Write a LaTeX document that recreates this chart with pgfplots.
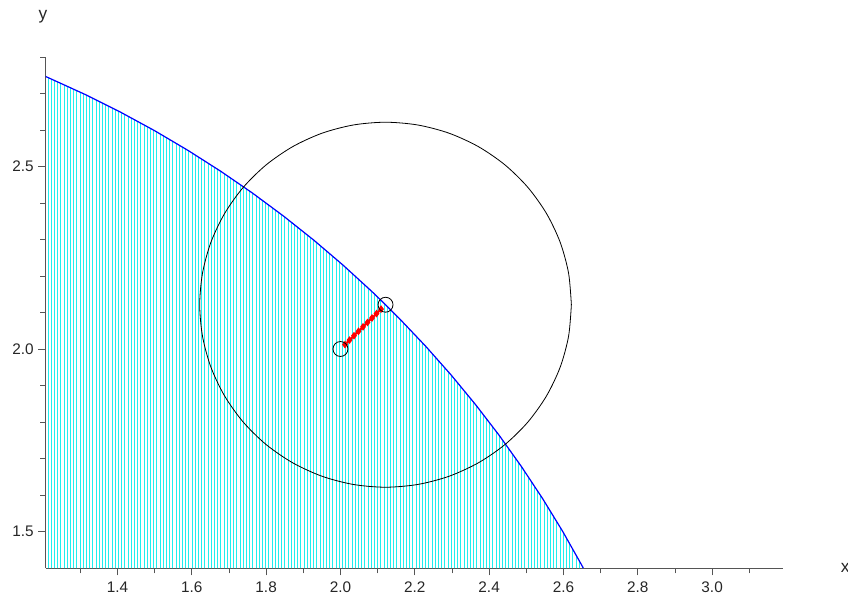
\documentclass[border=0pt]{standalone}
\usepackage{fontspec}
\setmainfont{Liberation Sans}
\usepackage{pgfplots}
\pgfplotsset{compat=1.18}
\usetikzlibrary{patterns.meta}
\definecolor{txt}{HTML}{262626}
\definecolor{axc}{HTML}{555555}
\definecolor{hatch}{HTML}{20EEEE}
\begin{document}
\begin{tikzpicture}
\path[use as bounding box] (-34.3pt,-23.25pt) rectangle (601.7pt,426pt);
\begin{axis}[
  at={(0,0)}, anchor=south west,
  scale only axis, width=552.75pt, height=383.25pt,
  xmin=1.207, xmax=3.19, ymin=1.4, ymax=2.8,
  axis lines=left, axis line style={-, draw=axc, line width=0.6pt},
  tick align=outside, tick style={draw=axc, line width=0.6pt},
  major tick length=5.5pt, minor tick length=4pt,
  xtick={1.4,1.6,1.8,2.0,2.2,2.4,2.6,2.8,3.0},
  minor xtick={1.3,1.5,1.7,1.9,2.1,2.3,2.5,2.7,2.9,3.1},
  ytick={1.5,2.0,2.5},
  minor ytick={1.6,1.7,1.8,1.9,2.1,2.2,2.3,2.4,2.6,2.7,2.8},
  /pgf/number format/.cd, fixed, fixed zerofill, precision=1, assume math mode=true,
  /pgfplots/.cd,
  ticklabel style={font=\fontsize{11.5pt}{13pt}\selectfont, text=txt},
  xticklabel style={yshift=-1.5pt},
  xlabel={x}, ylabel={y},
  label style={font=\fontsize{13pt}{15pt}\selectfont, text=txt},
  xlabel style={at={(axis description cs:1,0)}, anchor=west, xshift=40pt, yshift=0pt},
  ylabel style={at={(axis description cs:0,1)}, anchor=south, rotate=-90, xshift=-2pt, yshift=22pt},
  clip=true,
]
% hatched region under the arc x^2+y^2=9
\addplot[draw=none, pattern={Lines[angle=90,distance=2.4pt,line width=0.75pt]}, pattern color=hatch] coordinates {
(1.207,1.4) (1.207,2.7465) (1.3151,2.6964) (1.4084,2.6488) (1.5,2.5981) (1.5898,2.5441)
(1.6776,2.4871) (1.7634,2.4271) (1.8470,2.3640) (1.9284,2.2981) (2.0074,2.2294)
(2.0840,2.1580) (2.1213,2.1213) (2.1580,2.0840) (2.2294,2.0074) (2.2981,1.9284)
(2.3640,1.8470) (2.4271,1.7634) (2.4871,1.6776) (2.5441,1.5898) (2.5981,1.5)
(2.6488,1.4084) (2.6533,1.4) (1.207,1.4)
};
% blue arc
\addplot[blue, line width=0.9pt] coordinates {
(1.207,2.7465) (1.3151,2.6964) (1.4084,2.6488) (1.5,2.5981) (1.5898,2.5441)
(1.6776,2.4871) (1.7634,2.4271) (1.8470,2.3640) (1.9284,2.2981) (2.0074,2.2294)
(2.0840,2.1580) (2.1213,2.1213) (2.1580,2.0840) (2.2294,2.0074) (2.2981,1.9284)
(2.3640,1.8470) (2.4271,1.7634) (2.4871,1.6776) (2.5441,1.5898) (2.5981,1.5)
(2.6488,1.4084) (2.6533,1.4)
};
% black circle radius 0.5
\addplot[black, line width=0.6pt, smooth] coordinates {
(2.6213,2.1213) (2.6137,2.2081) (2.5912,2.2923) (2.5543,2.3713) (2.5043,2.4427)
(2.4427,2.5043) (2.3713,2.5543) (2.2923,2.5912) (2.2081,2.6137) (2.1213,2.6213)
(2.0345,2.6137) (1.9503,2.5912) (1.8713,2.5543) (1.7999,2.5043) (1.7383,2.4427)
(1.6883,2.3713) (1.6514,2.2923) (1.6289,2.2081) (1.6213,2.1213) (1.6289,2.0345)
(1.6514,1.9503) (1.6883,1.8713) (1.7383,1.7999) (1.7999,1.7383) (1.8713,1.6883)
(1.9503,1.6514) (2.0345,1.6289) (2.1213,1.6213) (2.2081,1.6289) (2.2923,1.6514)
(2.3713,1.6883) (2.4427,1.7383) (2.5043,1.7999) (2.5543,1.8713) (2.5912,1.9503)
(2.6137,2.0345) (2.6213,2.1213)
};
% red segment
\addplot[red, line width=1.6pt, mark=diamond*, mark size=1.6pt, mark options={red}] coordinates {
(2.0121,2.0121) (2.0243,2.0243) (2.0364,2.0364) (2.0485,2.0485) (2.0607,2.0607)
(2.0728,2.0728) (2.0849,2.0849) (2.0970,2.0970) (2.1092,2.1092)
};
% endpoints
\addplot[only marks, mark=o, mark size=5.6pt, mark options={black, line width=0.6pt}] coordinates {
(2.0,2.0) (2.1213,2.1213)
};
\end{axis}
\end{tikzpicture}
\end{document}
